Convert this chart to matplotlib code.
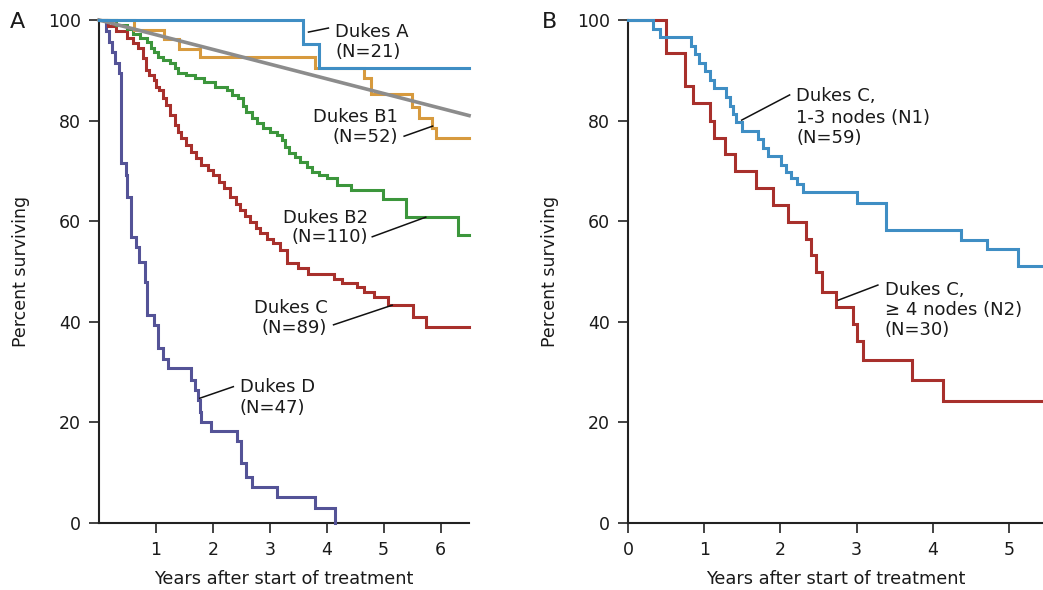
import matplotlib
matplotlib.use("Agg")
import matplotlib.pyplot as plt

plt.rcParams['font.family'] = ['DejaVu Sans']

# ---------------- Panel A data (years, percent surviving) ----------------
dukes_a_t = [0, 3.59, 3.86]
dukes_a_v = [100, 95.2, 90.5]

dukes_b1_t = [0, 0.62, 1.15, 1.41, 1.77, 3.80, 4.65, 4.78, 5.50, 5.62, 5.85, 5.92]
dukes_b1_v = [100, 98.1, 96.2, 94.2, 92.6, 90.4, 88.4, 85.2, 82.8, 80.5, 78.6, 76.6]

dukes_b2_t = [0, 0.30, 0.50, 0.59, 0.72, 0.85, 0.91, 0.97, 1.03, 1.12, 1.24, 1.33, 1.38,
              1.53, 1.68, 1.85, 2.03, 2.24, 2.33, 2.44, 2.53, 2.59, 2.68, 2.77, 2.88,
              3.00, 3.12, 3.21, 3.27, 3.33, 3.45, 3.53, 3.65, 3.74, 3.86, 4.00, 4.18,
              4.42, 4.98, 5.39, 6.30]
dukes_b2_v = [100, 99.1, 98.2, 97.3, 96.4, 95.7, 94.4, 93.6, 92.7, 92.0, 91.4, 90.4, 89.4,
              89.0, 88.4, 87.6, 86.7, 86.1, 85.1, 84.4, 83.0, 81.8, 80.6, 79.5, 78.6,
              77.8, 77.1, 76.1, 74.8, 73.5, 72.8, 71.8, 70.8, 69.8, 69.2, 68.5, 67.2,
              66.2, 64.5, 60.9, 57.3]

dukes_c_t = [0, 0.15, 0.30, 0.50, 0.60, 0.68, 0.77, 0.82, 0.88, 0.97, 1.00, 1.06, 1.12,
             1.18, 1.24, 1.33, 1.38, 1.44, 1.53, 1.62, 1.71, 1.80, 1.91, 2.00, 2.10,
             2.20, 2.30, 2.40, 2.47, 2.56, 2.65, 2.75, 2.83, 2.95, 3.06, 3.18, 3.30,
             3.50, 3.68, 4.12, 4.27, 4.53, 4.65, 4.83, 5.07, 5.51, 5.74]
dukes_c_v = [100, 98.9, 97.8, 96.4, 95.5, 94.4, 92.4, 90.1, 89.1, 88.1, 86.7, 86.1, 84.4,
             83.1, 81.1, 79.1, 77.8, 76.5, 75.2, 73.8, 72.5, 71.2, 70.2, 69.2, 67.8,
             66.5, 64.9, 63.5, 62.2, 61.0, 59.9, 58.7, 57.6, 56.5, 55.6, 54.3, 51.6,
             50.6, 49.6, 48.6, 47.7, 47.0, 46.0, 45.0, 43.3, 41.0, 39.0]

dukes_d_t = [0, 0.12, 0.18, 0.235, 0.29, 0.35, 0.38, 0.47, 0.50, 0.56, 0.65, 0.71, 0.80,
             0.85, 0.97, 1.03, 1.12, 1.21, 1.62, 1.68, 1.74, 1.77, 1.80, 1.97, 2.42,
             2.50, 2.59, 2.68, 3.12, 3.80, 4.15]
dukes_d_v = [100, 97.9, 95.7, 93.6, 91.5, 89.4, 71.5, 69.2, 64.9, 56.9, 54.9, 51.9, 48.0,
             41.4, 39.4, 34.7, 32.7, 30.8, 28.4, 26.4, 24.5, 22.1, 20.1, 18.2, 16.2,
             11.9, 9.2, 7.2, 5.2, 2.9, 0]

expected_t = [0, 6.5]
expected_v = [100, 81]

# ---------------- Panel B data ----------------
n1_t = [0, 0.33, 0.41, 0.83, 0.88, 0.93, 1.01, 1.08, 1.12, 1.29, 1.33, 1.38, 1.41, 1.49,
        1.70, 1.77, 1.84, 2.01, 2.07, 2.14, 2.22, 2.30, 3.00, 3.39, 4.37, 4.72, 5.12]
n1_v = [100, 98.3, 96.6, 94.9, 93.2, 91.5, 89.8, 88.1, 86.4, 84.7, 83.0, 81.4, 79.7, 78.0,
        76.3, 74.6, 72.9, 71.2, 69.8, 68.6, 67.3, 65.9, 63.6, 58.3, 56.3, 54.4, 51.0]

n2_t = [0, 0.50, 0.75, 0.85, 1.08, 1.13, 1.27, 1.40, 1.68, 1.90, 2.10, 2.34, 2.40, 2.47,
        2.54, 2.73, 2.95, 3.01, 3.08, 3.73, 4.14]
n2_v = [100, 93.5, 86.8, 83.4, 80.0, 76.6, 73.3, 70.0, 66.6, 63.3, 59.8, 56.5, 53.2, 49.8,
        46.0, 43.0, 39.5, 36.2, 32.5, 28.5, 24.3]

yticks = [0, 20, 40, 60, 80, 100]
xticks_a = [1, 2, 3, 4, 5, 6]
xticks_b = [0, 1, 2, 3, 4, 5]

C_BLUE = '#3f8ec4'
C_ORANGE = '#d79a3e'
C_GREEN = '#3c963c'
C_RED = '#a8302c'
C_PURPLE = '#545397'
C_GRAY = '#8c8c8c'
C_TEXT = '#1a1a1a'
LW = 2.2

fig = plt.figure(figsize=(10.43, 5.90), dpi=100)
axA = fig.add_axes([0.0949, 0.1136, 0.3548, 0.8525])
axB = fig.add_axes([0.6024, 0.1136, 0.3976, 0.8525])


def km(ax, t, v, end, color, z=3):
    tt = list(t) + [end]
    vv = list(v) + [v[-1]]
    ax.step(tt, vv, where='post', color=color, lw=LW, clip_on=False, zorder=z,
            solid_joinstyle='miter')


def style(ax, xlim, xticks):
    ax.set_xlim(*xlim)
    ax.set_ylim(0, 100)
    for s in ['top', 'right']:
        ax.spines[s].set_visible(False)
    for s in ['left', 'bottom']:
        ax.spines[s].set_linewidth(1.5)
        ax.spines[s].set_color('#222222')
    ax.set_yticks(yticks)
    ax.set_xticks(xticks)
    ax.tick_params(axis='both', direction='out', length=7, width=1.2, color='#222222',
                   labelsize=12.5, labelcolor=C_TEXT, pad=6)
    ax.set_ylabel('Percent surviving', fontsize=12.5, color=C_TEXT, labelpad=13)
    ax.set_xlabel('Years after start of treatment', fontsize=12.8, color=C_TEXT,
                  labelpad=8)


# ---- Panel A ----
km(axA, dukes_d_t, dukes_d_v, 4.15, C_PURPLE)
km(axA, dukes_c_t, dukes_c_v, 6.5, C_RED)
km(axA, dukes_b2_t, dukes_b2_v, 6.5, C_GREEN)
km(axA, dukes_b1_t, dukes_b1_v, 6.5, C_ORANGE)
axA.plot(expected_t, expected_v, color=C_GRAY, lw=2.6, zorder=4, clip_on=False)
km(axA, dukes_a_t, dukes_a_v, 6.5, C_BLUE, z=5)
style(axA, (0, 6.5), xticks_a)

TXT = dict(fontsize=13, color=C_TEXT)
LEAD = dict(color='#111111', lw=1.1, zorder=6, clip_on=False)

axA.plot([3.68, 4.03], [97.6, 98.4], **LEAD)
axA.text(4.15, 97.7, 'Dukes A', ha='left', va='center', **TXT)
axA.text(4.15, 93.6, '(N=21)', ha='left', va='center', **TXT)

axA.plot([5.36, 5.86], [76.9, 78.9], **LEAD)
axA.text(5.25, 80.8, 'Dukes B1', ha='right', va='center', **TXT)
axA.text(5.25, 76.8, '(N=52)', ha='right', va='center', **TXT)

axA.plot([4.80, 5.74], [56.9, 60.8], **LEAD)
axA.text(4.73, 60.6, 'Dukes B2', ha='right', va='center', **TXT)
axA.text(4.73, 56.8, '(N=110)', ha='right', va='center', **TXT)

axA.plot([4.12, 5.15], [39.4, 43.3], **LEAD)
axA.text(4.01, 42.7, 'Dukes C', ha='right', va='center', **TXT)
axA.text(4.01, 38.7, '(N=89)', ha='right', va='center', **TXT)

axA.plot([1.77, 2.36], [24.8, 27.1], **LEAD)
axA.text(2.47, 27.1, 'Dukes D', ha='left', va='center', **TXT)
axA.text(2.47, 22.9, '(N=47)', ha='left', va='center', **TXT)

# ---- Panel B ----
km(axB, n2_t, n2_v, 5.45, C_RED)
km(axB, n1_t, n1_v, 5.45, C_BLUE)
style(axB, (0, 5.45), xticks_b)

axB.plot([1.49, 2.12], [80.1, 85.1], **LEAD)
axB.text(2.21, 84.8, 'Dukes C,', ha='left', va='center', **TXT)
axB.text(2.21, 80.6, '1-3 nodes (N1)', ha='left', va='center', **TXT)
axB.text(2.21, 76.6, '(N=59)', ha='left', va='center', **TXT)

axB.plot([2.76, 3.28], [44.3, 47.3], **LEAD)
axB.text(3.37, 46.3, 'Dukes C,', ha='left', va='center', **TXT)
axB.text(3.37, 42.3, '\u2265 4 nodes (N2)', ha='left', va='center', **TXT)
axB.text(3.37, 38.3, '(N=30)', ha='left', va='center', **TXT)

fig.text(10 / 1043, 1 - 22 / 590, 'A', fontsize=16, color=C_TEXT, ha='left', va='center')
fig.text(542 / 1043, 1 - 22 / 590, 'B', fontsize=16, color=C_TEXT, ha='left', va='center')

fig.savefig('out.png', dpi=100)
